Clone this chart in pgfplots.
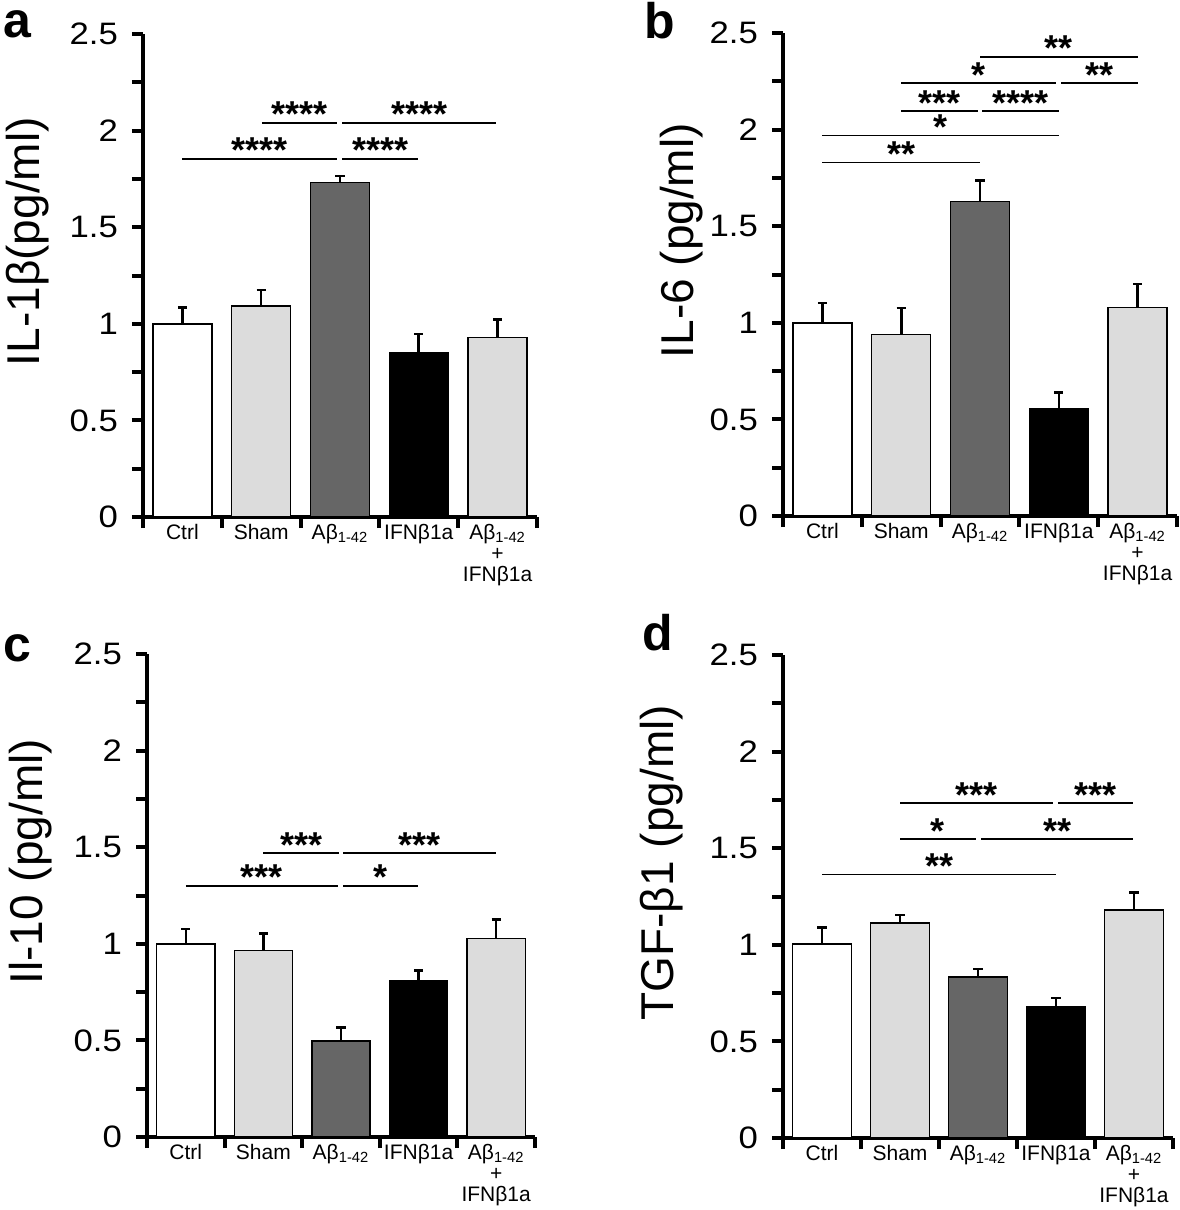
\documentclass[border=0pt]{standalone}
\usepackage{pgfplots}
\pgfplotsset{compat=1.18}
\usepackage{fontspec}
\setmainfont{Liberation Sans}
\newfontfamily\tickfont{Liberation Sans}[FakeStretch=1.12]
\usetikzlibrary{calc}

\definecolor{ltgray}{HTML}{DCDCDC}
\definecolor{dkgray}{HTML}{666666}

\pgfplotsset{
  panel/.style={
    scale only axis, width=197pt, height=241.5pt,
    anchor=south west,
    xmin=-0.5, xmax=4.5, ymin=0, ymax=2.5,
    axis lines*=left,
    axis line style={line width=1.8pt},
    ybar, clip=false,
    xtick={-0.5,0.5,...,4.5}, xticklabels={},
    extra x ticks={0,1,2,3,4},
    extra x tick labels={Ctrl, Sham, Aβ\textsubscript{1-42}, IFNβ1a, {Aβ\textsubscript{1-42}\\+\\IFNβ1a}},
    extra x tick style={major tick length=0pt},
    ytick={0,0.5,...,2.5},
    minor ytick={0.25,0.75,...,2.25},
    tick align=outside, xtick pos=bottom, ytick pos=left,
    major tick length=5.5pt, minor tick length=5.5pt,
    every tick/.style={line width=2pt, black},
    ytick style={line width=2pt, black},
    minor y tick style={line width=2pt, black},
    y tick label style={font=\tickfont\fontsize{15.5}{15.5}\selectfont, xshift=-3.5pt},
    x tick label style={font=\fontsize{10.5}{10.5}\selectfont, align=center, anchor=north},
    /pgf/number format/assume math mode=true,
    ylabel style={font=\fontsize{23}{23}\selectfont},
  },
  catbar/.style={fill=#1, draw=black, line width=0.7pt, bar shift=0pt, bar width=0.75,
    error bars/.cd, y dir=plus, y explicit, error mark=-,
    error bar style={line width=1.3pt, black},
    error mark options={rotate=90, line width=1.3pt, mark size=2.3pt, black}},
}

% significance bracket: from x1 to x2 at height y, with stars
\newcommand\sig[4]{%
  \draw[line width=0.9pt, black] (axis cs:#1,#3) -- (axis cs:#2,#3);
  \node[anchor=base, font=\bfseries\fontsize{18}{18}\selectfont, inner sep=0pt, yshift=5.2pt]
    at ($(axis cs:#1,#3)!0.5!(axis cs:#2,#3)$) {\raisebox{-0.4em}{#4}};
}

\begin{document}
\begin{tikzpicture}
\useasboundingbox (0,0) rectangle (589.5pt,-605pt);

% a: IL-1beta
\begin{axis}[panel, at={(71.5pt,-258.5pt)},
  ylabel={IL-1β(pg/ml)},
  ylabel style={at={(axis description cs:-0.294,0.57)}, anchor=center}]
\addplot[catbar=white]  coordinates {(0,1.000) +- (0,0.083)};
\addplot[catbar=ltgray] coordinates {(1,1.093) +- (0,0.083)};
\addplot[catbar=dkgray] coordinates {(2,1.730) +- (0,0.035)};
\addplot[catbar=black]  coordinates {(3,0.849) +- (0,0.099)};
\addplot[catbar=ltgray] coordinates {(4,0.929) +- (0,0.092)};
\sig{0.0}{1.96}{1.855}{****}
\sig{2.03}{2.99}{1.855}{****}
\sig{1.01}{1.96}{2.04}{****}
\sig{2.03}{3.98}{2.04}{****}
\end{axis}

% b: IL-6
\begin{axis}[panel, at={(391.5pt,-258pt)},
  ylabel={IL-6 (pg/ml)},
  ylabel style={at={(axis description cs:-0.258,0.57)}, anchor=center}]
\addplot[catbar=white]  coordinates {(0,1.000) +- (0,0.103)};
\addplot[catbar=ltgray] coordinates {(1,0.940) +- (0,0.136)};
\addplot[catbar=dkgray] coordinates {(2,1.628) +- (0,0.110)};
\addplot[catbar=black]  coordinates {(3,0.555) +- (0,0.083)};
\addplot[catbar=ltgray] coordinates {(4,1.078) +- (0,0.122)};
\sig{2.0}{4.0}{2.376}{**}
\sig{1.0}{2.97}{2.24}{*}
\sig{3.03}{4.0}{2.24}{**}
\sig{1.0}{1.97}{2.095}{***}
\sig{2.03}{3.0}{2.095}{****}
\sig{0.0}{3.0}{1.97}{*}
\sig{0.0}{2.0}{1.83}{**}
\end{axis}

% c: IL-10
\begin{axis}[panel, width=194pt, at={(73.5pt,-568.5pt)},
  ylabel={Il-10 (pg/ml)},
  ylabel style={at={(axis description cs:-0.30,0.57)}, anchor=center}]
\addplot[catbar=white]  coordinates {(0,1.000) +- (0,0.076)};
\addplot[catbar=ltgray] coordinates {(1,0.965) +- (0,0.089)};
\addplot[catbar=dkgray] coordinates {(2,0.497) +- (0,0.069)};
\addplot[catbar=black]  coordinates {(3,0.808) +- (0,0.054)};
\addplot[catbar=ltgray] coordinates {(4,1.029) +- (0,0.096)};
\sig{0.0}{1.96}{1.30}{***}
\sig{2.03}{2.99}{1.30}{*}
\sig{1.0}{1.97}{1.47}{***}
\sig{2.03}{4.0}{1.47}{***}
\end{axis}

% d: TGF-beta1
\begin{axis}[panel, width=195pt, at={(391.5pt,-569pt)},
  ylabel={TGF-β1 (pg/ml)},
  ylabel style={at={(axis description cs:-0.31,0.57)}, anchor=center}]
\addplot[catbar=white]  coordinates {(0,1.005) +- (0,0.085)};
\addplot[catbar=ltgray] coordinates {(1,1.112) +- (0,0.043)};
\addplot[catbar=dkgray] coordinates {(2,0.834) +- (0,0.040)};
\addplot[catbar=black]  coordinates {(3,0.681) +- (0,0.043)};
\addplot[catbar=ltgray] coordinates {(4,1.181) +- (0,0.090)};
\sig{0.0}{3.0}{1.364}{**}
\sig{1.0}{1.97}{1.547}{*}
\sig{2.04}{3.99}{1.547}{**}
\sig{1.0}{2.96}{1.733}{***}
\sig{3.03}{3.99}{1.733}{***}
\end{axis}

\tikzset{plab/.style={anchor=base west, inner sep=0pt, font=\bfseries\fontsize{25}{25}\selectfont}}
\node[plab] at (1.5pt,-18.5pt) {a};
\node[plab] at (322pt,-19.5pt) {b};
\node[plab] at (1.5pt,-330.5pt) {c};
\node[plab] at (321pt,-325pt) {d};
\end{tikzpicture}
\end{document}
